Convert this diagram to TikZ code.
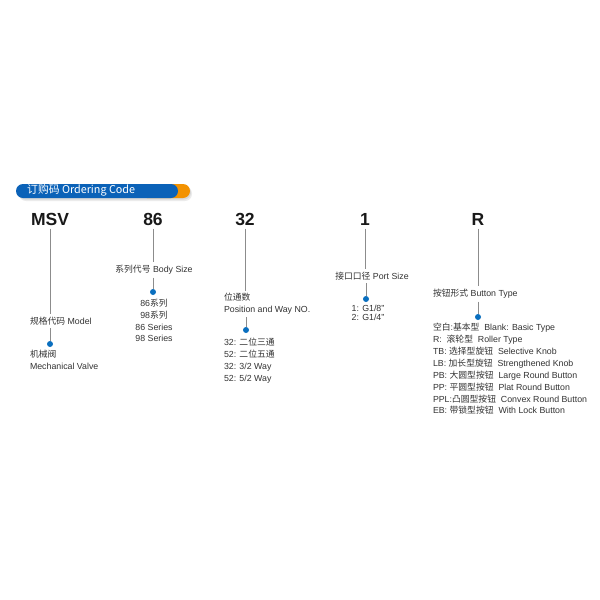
\documentclass[tikz,border=0pt]{standalone}
\usepackage{fontspec}
\setmainfont{Liberation Sans}
\newfontfamily\cjk{Noto Sans CJK SC}
\definecolor{hdrblue}{HTML}{0B62B8}
\definecolor{hdrorange}{HTML}{F39200}
\definecolor{dotblue}{HTML}{0A6FBF}
\definecolor{txt}{HTML}{333333}
\definecolor{linegray}{HTML}{8C8C8C}
\begin{document}
\begin{tikzpicture}[x=1pt,y=-1pt,
  big/.style={font=\fontsize{17.5}{20}\selectfont\bfseries, text=black!90, inner sep=0pt, outer sep=0pt, minimum height=13pt},
  lbl/.style={font=\fontsize{8.8}{11.7}\selectfont, text=txt, inner sep=0pt, outer sep=0pt},
  dotc/.style={circle, fill=dotblue, inner sep=0pt, minimum size=6pt},
  conn/.style={draw=linegray, line width=0.9pt},
]
\useasboundingbox (0,0) rectangle (600,600);
\fill[white] (0,0) rectangle (600,600);

% header bar
\fill[black, opacity=0.08, rounded corners=7pt] (19,186.5) rectangle (192,201);
\fill[black, opacity=0.08, rounded corners=7pt] (18,185.5) rectangle (191,199.5);
\fill[hdrorange, rounded corners=7pt] (140,184) rectangle (190,198);
\fill[hdrblue, rounded corners=7pt] (16,184) rectangle (178,198);
\node[anchor=west, text=white, inner sep=0pt, font=\cjk\fontsize{10.8}{12}\selectfont] (hdr) at (27,190.5) {订购码 Ordering Code};

% MSV
\node[big] (msv) at (50,219) {MSV};
\node[lbl, anchor=west] (msvl) at (30,321) {{\cjk 规格代码} Model};
\node[dotc] (msvd) at (50,344) {};
\node[lbl, anchor=north west, align=left] (msvt) at (30,350.5) {{\cjk 机械阀}\\Mechanical Valve};
\draw[conn] ([yshift=-3pt]msv.south) -- ([yshift=3pt]msv.south |- msvl.north);
\draw[conn] ([yshift=-3pt]msvd |- msvl.south) -- (msvd);

% 86
\node[big] (b86) at (153,219) {86};
\node[lbl] (b86l) at (154,270) {{\cjk 系列代号} Body Size};
\node[dotc] (b86d) at (153,292) {};
\node[lbl, anchor=north, align=center] (b86t) at (154,299.5) {86{\cjk 系列}\\98{\cjk 系列}\\86 Series\\98 Series};
\draw[conn] ([yshift=-3pt]b86.south) -- ([yshift=3pt]b86.south |- b86l.north);
\draw[conn] ([yshift=-3pt]b86d |- b86l.south) -- (b86d);

% 32
\node[big] (b32) at (245,219) {32};
\node[lbl, anchor=north west, align=left] (b32l) at (224,293.5) {{\cjk 位通数}\\Position and Way NO.};
\node[dotc] (b32d) at (246,330) {};
\node[lbl, anchor=north west, align=left] (b32t) at (224,338.5) {32: {\cjk 二位三通}\\52: {\cjk 二位五通}\\32: 3/2 Way\\52: 5/2 Way};
\draw[conn] ([yshift=-3pt]b32.south) -- ([yshift=3pt]b32.south |- b32l.north);
\draw[conn] ([yshift=-3pt]b32d |- b32l.south) -- (b32d);

% 1
\node[big] (b1) at (365,219) {1};
\node[lbl] (b1l) at (372,276) {{\cjk 接口口径} Port Size};
\node[dotc] (b1d) at (366,299) {};
\node[lbl, anchor=north, align=center, font=\fontsize{8.8}{9.5}\selectfont] (b1t) at (368,305) {1: G1/8”\\2: G1/4”};
\draw[conn] ([yshift=-3pt]b1.south) -- ([yshift=3pt]b1.south |- b1l.north);
\draw[conn] ([yshift=-3pt]b1d |- b1l.south) -- (b1d);

% R
\node[big] (br) at (478,219) {R};
\node[lbl, anchor=west] (brl) at (433,294) {{\cjk 按钮形式} Button Type};
\node[dotc] (brd) at (478,317) {};
\node[lbl, anchor=north west, align=left, font=\fontsize{8.8}{11.86}\selectfont] (brt) at (433,323.5) {%
{\cjk 空白}:{\cjk 基本型}\ \ Blank: Basic Type\\
R: \ {\cjk 滚轮型}\ \ Roller Type\\
TB: {\cjk 选择型旋钮}\ \ Selective Knob\\
LB: {\cjk 加长型旋钮}\ \ Strengthened Knob\\
PB: {\cjk 大圆型按钮}\ \ Large Round Button\\
PP: {\cjk 平圆型按钮}\ \ Plat Round Button\\
PPL:{\cjk 凸圆型按钮}\ \ Convex Round Button\\
EB: {\cjk 带锁型按钮}\ \ With Lock Button};
\draw[conn] ([yshift=-3pt]br.south) -- ([yshift=3pt]br.south |- brl.north);
\draw[conn] ([yshift=-3pt]brd |- brl.south) -- (brd);
\end{tikzpicture}
\end{document}
